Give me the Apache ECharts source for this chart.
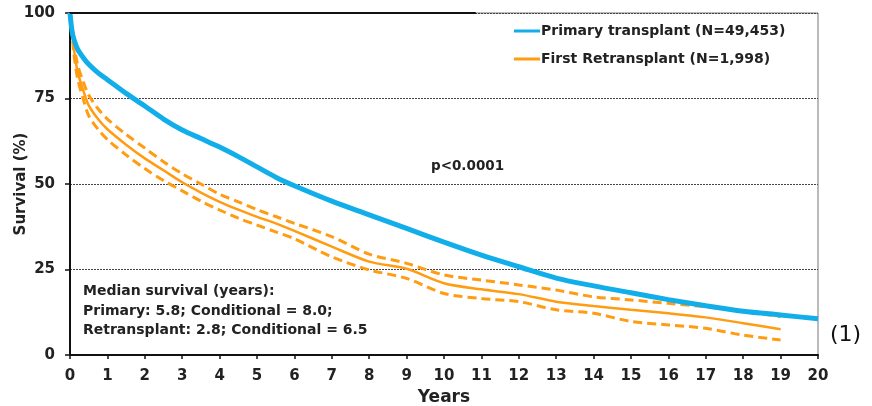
<!DOCTYPE html>
<html>
<head>
<meta charset="utf-8">
<script src="https://cdn.jsdelivr.net/npm/echarts@6/dist/echarts.min.js"></script>
<style>html,body{margin:0;padding:0;background:#fff;}#c{width:872px;height:406px;}</style>
</head>
<body>
<div id="c"></div>
<script>
var years = [0, 0.05, 0.1, 0.2, 0.35, 0.5, 0.75, 1, 1.5, 2, 2.5, 3, 3.5, 4, 4.5, 5, 5.5, 6, 7, 8, 9, 10, 11, 12, 13, 14, 15, 16, 17, 18, 19, 20];
var primary = [100, 95, 92.5, 89.5, 87, 85, 82.5, 80.5, 76.5, 72.8, 69, 65.8, 63.3, 60.8, 58, 55, 52, 49.5, 45, 41, 37, 33, 29.2, 25.8, 22.5, 20.2, 18.2, 16.2, 14.4, 12.8, 11.7, 10.6];
var retx = [100, 96, 90, 83, 77.5, 73, 69, 66, 61.5, 57.5, 54, 50.5, 47.5, 44.8, 42.5, 40.4, 38.5, 36.3, 31.7, 27.3, 25.2, 21, 19.2, 17.8, 15.6, 14.3, 13.2, 12.2, 11, 9.3, 7.5];
var retxUpper = [100, 97, 91.5, 85, 80, 76, 72, 69, 64.5, 60.5, 56.5, 53, 50, 47, 44.8, 42.5, 40.5, 38.5, 34.6, 29.5, 26.8, 23.4, 21.9, 20.5, 19, 17, 16.1, 15.1, 14.1, 12.7, 11.2];
var retxLower = [100, 95, 88.5, 81, 75, 70, 66, 63, 58.5, 54.5, 51, 48, 45, 42.4, 40, 38, 36, 34, 28.7, 24.9, 22.4, 18, 16.5, 15.6, 13.2, 12.2, 9.8, 8.8, 7.8, 5.8, 4.4];
var yTicks = [0, 25, 50, 75, 100];
var seriesNames = ['Primary transplant (N=49,453)', 'First Retransplant (N=1,998)'];
var medianText = ['Median survival (years):', 'Primary: 5.8; Conditional = 8.0;', 'Retransplant: 2.8; Conditional = 6.5'];
var pText = 'p<0.0001';

function pairs(xs, ys) { var out = []; for (var i = 0; i < ys.length; i++) out.push([xs[i], ys[i]]); return out; }

var BLUE = '#12AEEA', ORANGE = '#FF9C12', FONT = '"DejaVu Sans", Arial, sans-serif';
var chart = echarts.init(document.getElementById('c'));
chart.setOption({
  animation: false,
  backgroundColor: '#fff',
  grid: { left: 70, right: 54, top: 13, bottom: 51, show: true, borderColor: '#777', borderWidth: 1,
    containLabel: false, outerBoundsMode: 'none' },
  legend: {
    data: seriesNames, orient: 'vertical', left: 509, top: 19, itemGap: 14,
    itemWidth: 26, itemHeight: 3, icon: 'rect',
    textStyle: { fontFamily: FONT, fontWeight: 'bold', fontSize: 14, color: '#222', padding: [0, 0, 0, -4] }
  },
  xAxis: {
    type: 'value', min: 0, max: 20, interval: 1,
    name: 'Years', nameLocation: 'middle', nameGap: 34, nameMoveOverlap: false,
    nameTextStyle: { fontFamily: FONT, fontWeight: 'bold', fontSize: 17, color: '#222' },
    axisLine: { lineStyle: { color: '#111', width: 2 } },
    axisTick: { show: true, length: 4, lineStyle: { color: '#111', width: 1.5 } },
    axisLabel: { fontFamily: FONT, fontWeight: 'bold', fontSize: 15, color: '#222', margin: 14 },
    splitLine: { show: false }
  },
  yAxis: {
    type: 'value', min: 0, max: 100, interval: 25,
    name: 'Survival (%)', nameLocation: 'middle', nameGap: 41, nameMoveOverlap: false,
    nameTextStyle: { fontFamily: FONT, fontWeight: 'bold', fontSize: 15, color: '#222' },
    axisLine: { show: true, lineStyle: { color: '#111', width: 2 } },
    axisTick: { show: true, length: 5, lineStyle: { color: '#111', width: 1.5 } },
    axisLabel: { fontFamily: FONT, fontWeight: 'bold', fontSize: 15, color: '#222', margin: 15,
      formatter: function (v) { return yTicks.indexOf(v) >= 0 ? String(v) : ''; } },
    splitLine: { show: true, lineStyle: { color: '#444', type: [2, 1], width: 1 } }
  },
  series: [
    { name: seriesNames[0], type: 'line', data: pairs(years, primary), showSymbol: false, smooth: 0.3,
      lineStyle: { color: BLUE, width: 5 }, itemStyle: { color: BLUE }, z: 3,
      markLine: { silent: true, symbol: 'none', label: { show: false },
        lineStyle: { color: '#111', width: 2, type: 'solid' },
        data: [[{ coord: [0, 100] }, { coord: [10.85, 100] }]] } },
    { name: seriesNames[1], type: 'line', data: pairs(years, retx), showSymbol: false, smooth: 0.3,
      lineStyle: { color: ORANGE, width: 2.5 }, itemStyle: { color: ORANGE }, z: 2 },
    { name: 'upper', type: 'line', data: pairs(years, retxUpper), showSymbol: false, smooth: 0.3,
      lineStyle: { color: ORANGE, width: 3, type: [9, 5] }, z: 2 },
    { name: 'lower', type: 'line', data: pairs(years, retxLower), showSymbol: false, smooth: 0.3,
      lineStyle: { color: ORANGE, width: 3, type: [9, 5] }, z: 2 }
  ],
  graphic: [
    { type: 'text', left: 431, top: 159, style: { text: pText, font: 'bold 13.5px ' + FONT, fill: '#222' } },
    { type: 'text', left: 83, top: 282, style: { text: medianText.join('\n'), font: 'bold 14px ' + FONT, fill: '#222', lineHeight: 19.5 } },
    { type: 'text', left: 830, top: 324, style: { text: '(1)', font: '22px ' + FONT, fill: '#111' } }
  ]
});
</script>
</body>
</html>
